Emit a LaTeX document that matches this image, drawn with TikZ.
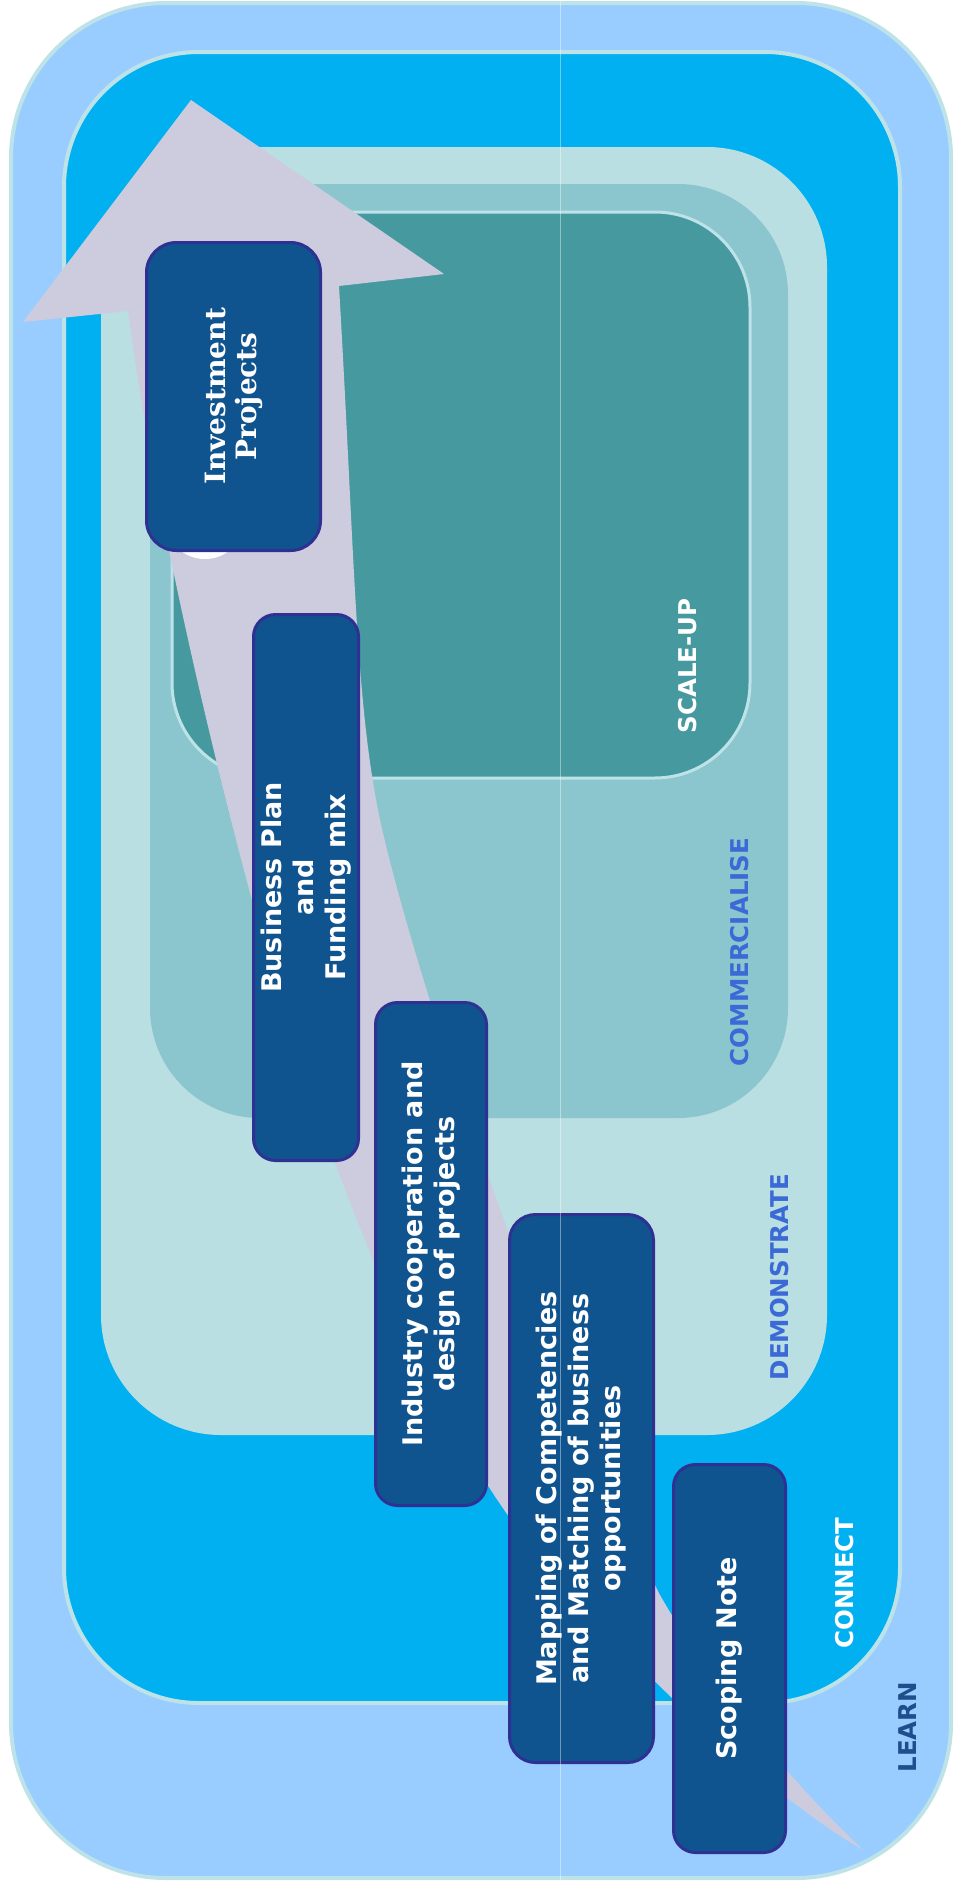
\documentclass[tikz,border=0pt]{standalone}
\usepackage{fontspec}
\setmainfont{DejaVu Sans}
\newfontfamily\slabfont{DejaVu Serif}
\usetikzlibrary{positioning}
\definecolor{learnfill}{HTML}{99CCFF}
\definecolor{zoneedge}{HTML}{BDE3E8}
\definecolor{connectfill}{HTML}{00B0F0}
\definecolor{demofill}{HTML}{B9DFE3}
\definecolor{commfill}{HTML}{8BC6CE}
\definecolor{scalefill}{HTML}{46999F}
\definecolor{pathfill}{HTML}{CCCCDE}
\definecolor{stageblue}{HTML}{10548F}
\definecolor{stageedge}{HTML}{2E3192}
\definecolor{labelblue}{HTML}{3B6AD6}
\definecolor{learnblue}{HTML}{1F4E8C}
\tikzset{
  zone/.style={draw=zoneedge,line width=#1},
  stagebox/.style={draw=stageedge,line width=3pt,fill=stageblue,rounded corners=22pt,
    text=white,font=\bfseries\fontsize{27}{32}\selectfont,align=center,rotate=90,inner sep=0pt},
  zonelabel/.style={font=\bfseries\fontsize{24.5}{28}\selectfont,rotate=90},
}

\begin{document}
\begin{tikzpicture}[x=1pt,y=-1pt]
  \useasboundingbox (0,0) rectangle (957,1887);
  \draw[zone=4pt,fill=learnfill,rounded corners=155pt] (11,3) rectangle (951,1878);
  \draw[zone=4pt,fill=connectfill,rounded corners=135pt] (64,52) rectangle (900,1703);
  \fill[demofill,rounded corners=120pt] (101,147) rectangle (827,1435);
  \fill[commfill,rounded corners=110pt] (150,184) rectangle (788,1118);
  \draw[zone=3pt,fill=scalefill,rounded corners=95pt] (172,212) rectangle (750,778);

  \node[zonelabel,text=white] (scalelabel) at (688,666) {SCALE-UP};
  \node[zonelabel,text=labelblue] (commlabel) at (740,952) {COMMERCIALISE};
  \node[zonelabel,text=labelblue] (demolabel) at (780,1277) {DEMONSTRATE};
  \node[zonelabel,text=white] (connectlabel) at (845,1583) {CONNECT};
  \node[zonelabel,text=learnblue] (learnlabel) at (908,1727) {LEARN};

  \fill[pathfill] (191,100) -- (444,274) -- (339,286)
    .. controls (355,560) and (355,700) .. (380,820)
    .. controls (420,1000) and (560,1400) .. (660,1595)
    .. controls (720,1700) and (800,1790) .. (863,1850)
    .. controls (760,1790) and (600,1640) .. (507,1514)
    .. controls (420,1390) and (330,1180) .. (260,930)
    .. controls (200,710) and (150,480) .. (128,311)
    -- (23,322) -- cycle;
  \fill[white] (205,519) circle (40);

  \node[stagebox,minimum width=308,minimum height=174,rounded corners=30pt,font=\slabfont\bfseries\fontsize{28}{31}\selectfont]
    (invest) at (233.5,396.5) {Investment\\Projects};
  \node[stagebox,minimum width=546,minimum height=105] (business) at (306,887.5) {Business Plan\\and\\Funding mix};
  \node[stagebox,minimum width=503,minimum height=111] (industry) at (431,1254) {Industry cooperation and\\design of projects};
  \node[stagebox,minimum width=548,minimum height=144,rounded corners=26pt] (mapping) at (581.5,1488.5) {Mapping of Competencies\\and Matching of business\\opportunities};
  \node[stagebox,minimum width=388,minimum height=112] (scoping) at (729.5,1658.5) {Scoping Note};

  \draw[white,opacity=0.4,line width=0.8pt] (560,0) -- (560,1880);
\end{tikzpicture}
\end{document}
